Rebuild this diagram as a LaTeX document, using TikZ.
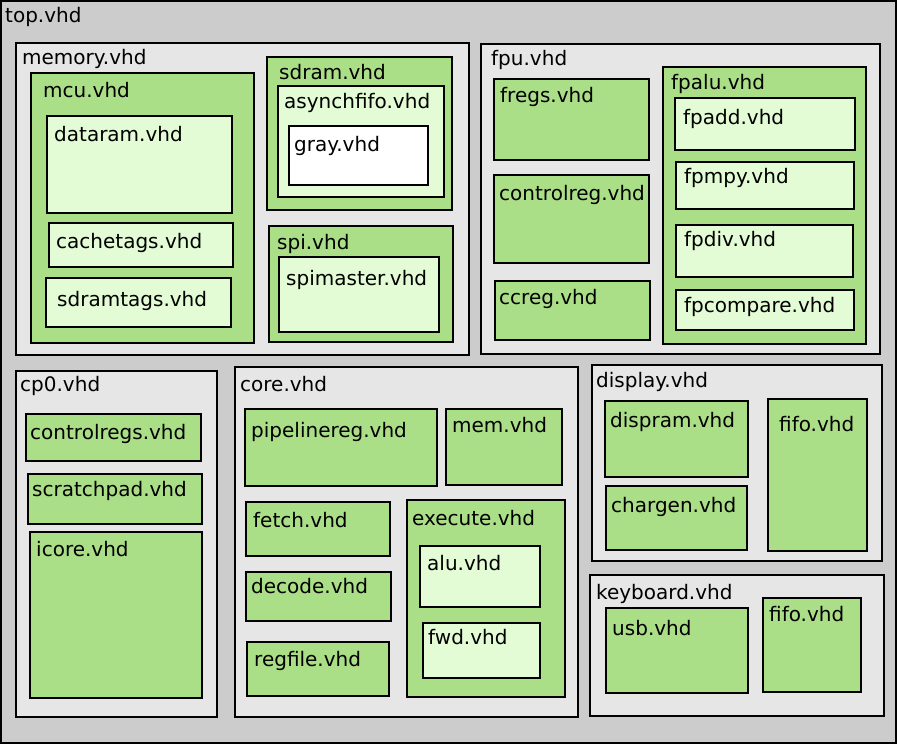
\documentclass[tikz,border=0pt]{standalone}
\usepackage{fontspec}
\setmainfont{DejaVu Sans}
\usepackage{tikz}
\usetikzlibrary{positioning}

\definecolor{topgrey}{HTML}{CCCCCC}
\definecolor{filegrey}{HTML}{E6E6E6}
\definecolor{filegreen}{HTML}{AADE87}
\definecolor{filelight}{HTML}{E3FCD5}

\tikzset{
  unit/.style={draw=black, line width=2pt},
  toplvl/.style={unit, fill=topgrey},
  grp/.style={unit, fill=filegrey},
  mod/.style={unit, fill=filegreen},
  sub/.style={unit, fill=filelight},
  leaf/.style={unit, fill=white},
  lbl/.style={anchor=base west, inner sep=0pt, yshift=-1pt, font=\fontsize{20}{24}\selectfont}
}

% name, style, corner, corner, label position, text
\newcommand{\vhdbox}[9]{%
  \draw[#2] (#3,#4) rectangle (#5,#6);
  \node[lbl] (#1) at (#7,#8) {#9};
}

\begin{document}
\begin{tikzpicture}[x=1pt,y=-1pt]
	\useasboundingbox (0,0) rectangle (897,744);
	\vhdbox{top}{toplvl}{1}{1}{896}{743}{5}{22}{top.vhd}
	% memory
	\vhdbox{memory}{grp}{16}{43}{469}{355}{22}{63}{memory.vhd}
	\vhdbox{mcu}{mod}{31}{73}{254}{343}{43}{96}{mcu.vhd}
	\vhdbox{dataram}{sub}{47}{116}{232}{213}{54}{140}{dataram.vhd}
	\vhdbox{cachetags}{sub}{49}{223}{233}{267}{56}{247}{cachetags.vhd}
	\vhdbox{sdramtags}{sub}{46}{278}{231}{327}{57}{305}{sdramtags.vhd}
	\vhdbox{sdram}{mod}{267}{57}{452}{210}{279}{78}{sdram.vhd}
	\vhdbox{asynchfifo}{sub}{278}{86}{444}{197}{284}{107}{asynchfifo.vhd}
	\vhdbox{gray}{leaf}{289}{126}{428}{185}{294}{150}{gray.vhd}
	\vhdbox{spi}{mod}{269}{226}{453}{342}{277}{248}{spi.vhd}
	\vhdbox{spimaster}{sub}{279}{257}{439}{332}{286}{284}{spimaster.vhd}
	% fpu
	\vhdbox{fpu}{grp}{481}{44}{880}{354}{491}{64}{fpu.vhd}
	\vhdbox{fregs}{mod}{494}{79}{649}{160}{500}{101}{fregs.vhd}
	\vhdbox{controlreg}{mod}{494}{175}{649}{263}{499}{199}{controlreg.vhd}
	\vhdbox{ccreg}{mod}{495}{281}{650}{340}{499}{303}{ccreg.vhd}
	\vhdbox{fpalu}{mod}{663}{67}{866}{344}{671}{88}{fpalu.vhd}
	\vhdbox{fpadd}{sub}{675}{98}{855}{150}{683}{123}{fpadd.vhd}
	\vhdbox{fpmpy}{sub}{676}{162}{854}{209}{684}{182}{fpmpy.vhd}
	\vhdbox{fpdiv}{sub}{676}{225}{853}{277}{684}{245}{fpdiv.vhd}
	\vhdbox{fpcompare}{sub}{676}{290}{854}{330}{684}{311}{fpcompare.vhd}
	% cp0
	\vhdbox{cp0}{grp}{16}{371}{217}{717}{20}{390}{cp0.vhd}
	\vhdbox{controlregs}{mod}{26}{414}{201}{461}{30}{438}{controlregs.vhd}
	\vhdbox{scratchpad}{mod}{28}{474}{202}{524}{32}{495}{scratchpad.vhd}
	\vhdbox{icore}{mod}{30}{532}{202}{698}{36}{555}{icore.vhd}
	% core
	\vhdbox{core}{grp}{235}{367}{578}{717}{240}{390}{core.vhd}
	\vhdbox{pipelinereg}{mod}{245}{409}{437}{486}{251}{436}{pipelinereg.vhd}
	\vhdbox{mem}{mod}{446}{409}{562}{485}{452}{431}{mem.vhd}
	\vhdbox{fetch}{mod}{246}{502}{390}{556}{253}{526}{fetch.vhd}
	\vhdbox{decode}{mod}{246}{572}{391}{621}{251}{592}{decode.vhd}
	\vhdbox{regfile}{mod}{247}{642}{389}{696}{254}{665}{regfile.vhd}
	\vhdbox{execute}{mod}{407}{500}{565}{697}{412}{524}{execute.vhd}
	\vhdbox{alu}{sub}{420}{546}{540}{607}{427}{569}{alu.vhd}
	\vhdbox{fwd}{sub}{423}{623}{540}{678}{428}{643}{fwd.vhd}
	% display
	\vhdbox{display}{grp}{592}{365}{882}{561}{596}{386}{display.vhd}
	\vhdbox{dispram}{mod}{605}{401}{748}{477}{610}{426}{dispram.vhd}
	\vhdbox{chargen}{mod}{606}{486}{747}{550}{611}{511}{chargen.vhd}
	\vhdbox{dispfifo}{mod}{768}{399}{867}{551}{779}{430}{fifo.vhd}
	% keyboard
	\vhdbox{keyboard}{grp}{590}{575}{884}{716}{596}{598}{keyboard.vhd}
	\vhdbox{usb}{mod}{606}{608}{748}{693}{612}{634}{usb.vhd}
	\vhdbox{kbfifo}{mod}{763}{598}{861}{692}{769}{620}{fifo.vhd}
\end{tikzpicture}
\end{document}
